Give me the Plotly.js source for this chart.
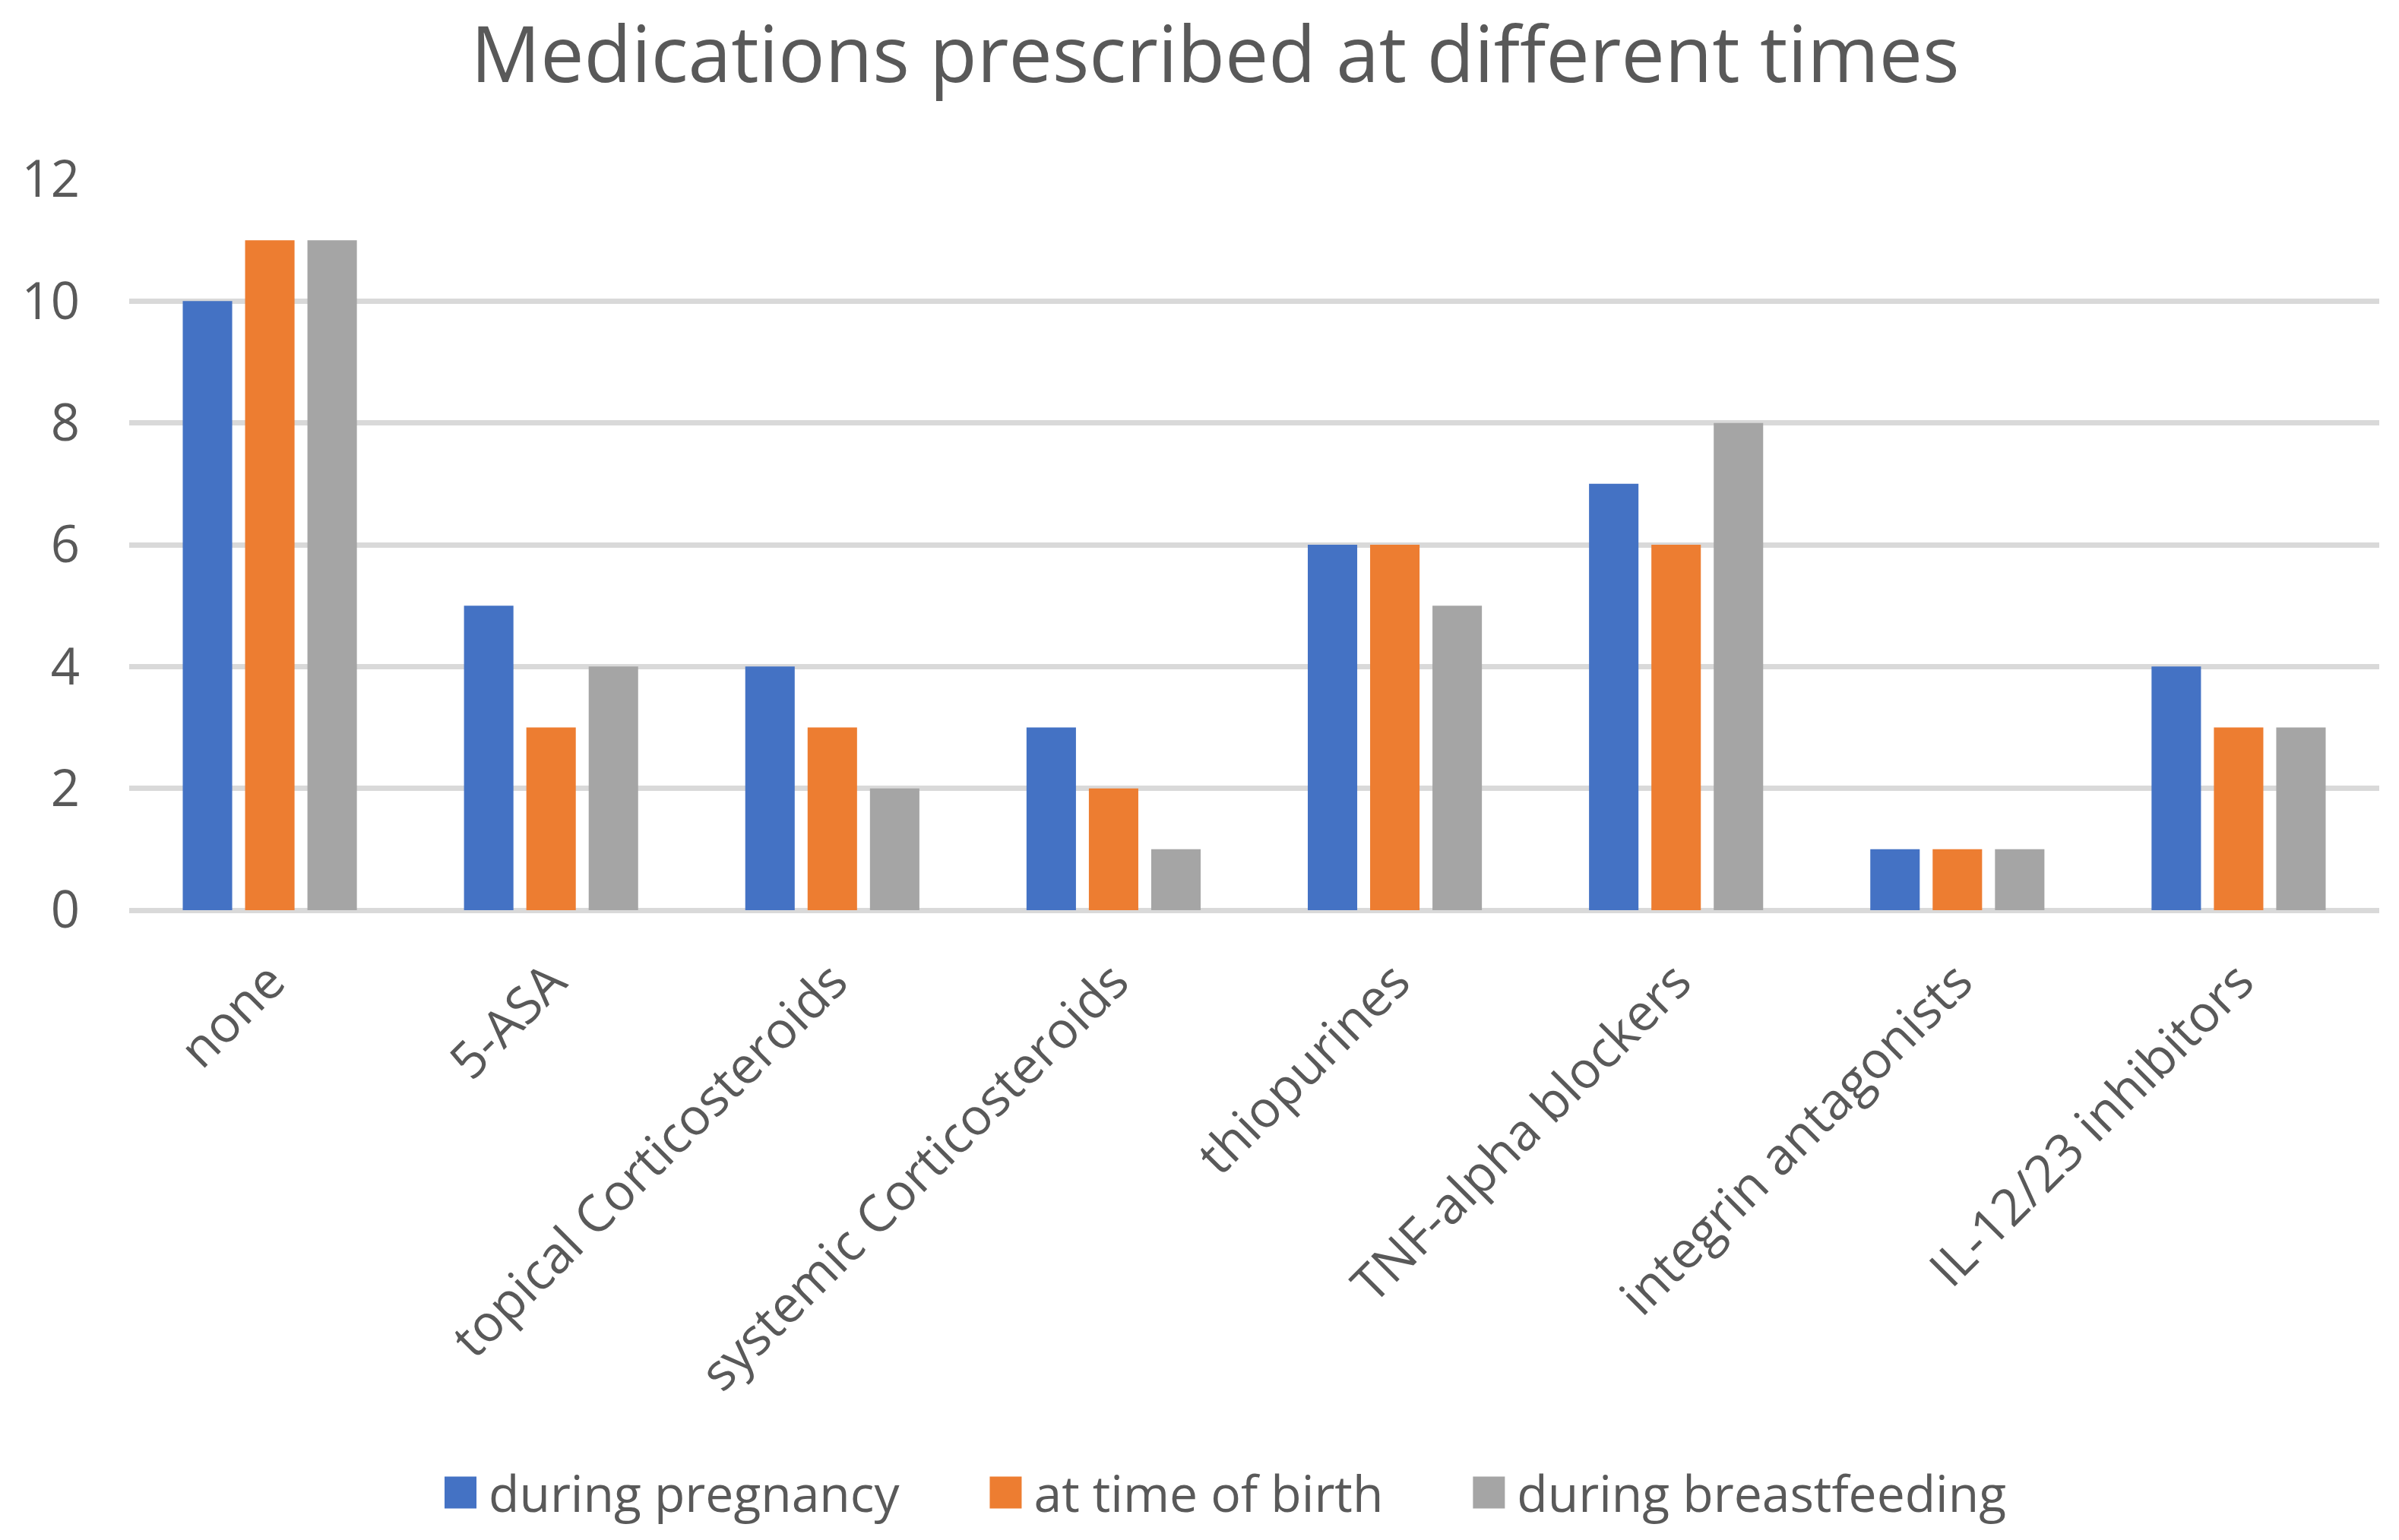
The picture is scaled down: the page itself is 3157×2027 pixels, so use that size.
<!DOCTYPE html>
<html>
<head>
<meta charset="utf-8">
<script src="https://cdn.plot.ly/plotly-3.0.1.min.js"></script>
<style>
  html, body { margin: 0; padding: 0; background: #ffffff; }
  #chart { width: 3157px; height: 2027px; }
</style>
</head>
<body>
<div id="chart"></div>
<script>
// ---- data ----
const categories = ["none", "5-ASA", "topical Corticosteroids", "systemic Corticosteroids",
  "thiopurines", "TNF-alpha blockers", "integrin antagonists", "IL-12/23 inhibitors"];
const seriesNames = ["during pregnancy", "at time of birth", "during breastfeeding"];
const duringPregnancy = [10, 5, 4, 3, 6, 7, 1, 4];
const atTimeOfBirth = [11, 3, 3, 2, 6, 6, 1, 3];
const duringBreastfeeding = [11, 4, 2, 1, 5, 8, 1, 3];
const yTicks = [0, 2, 4, 6, 8, 10, 12];
const titleText = "Medications prescribed at different times";

// ---- styles ----
const colors = ["#4472C4", "#ED7D31", "#A5A5A5"];
const textColor = "#595959";
const gridColor = "#D9D9D9";
const FONT = "'Open Sans', 'Noto Sans', sans-serif";

const values = [duringPregnancy, atTimeOfBirth, duringBreastfeeding];
const traces = values.map((v, i) => ({
  type: "bar",
  name: seriesNames[i],
  x: categories,
  y: v,
  marker: { color: colors[i], line: { width: 0 } },
  hoverinfo: "skip"
}));

const layout = {
  width: 3157,
  height: 2027,
  paper_bgcolor: "#ffffff",
  plot_bgcolor: "#ffffff",
  margin: { l: 170, r: 26, t: 236, b: 819, pad: 0 },
  barmode: "group",
  bargap: 0.335,
  bargroupgap: 0.207,
  font: { family: FONT, color: textColor, size: 66 },
  title: {
    text: titleText,
    font: { family: FONT, color: textColor, size: 102 },
    x: 0.5065, xref: "container", xanchor: "center",
    y: 0.982, yref: "container", yanchor: "top"
  },
  xaxis: {
    type: "category",
    tickangle: -45,
    tickfont: { family: FONT, color: textColor, size: 67 },
    showgrid: false,
    showline: false,
    zeroline: false,
    ticks: "",
    ticklabelstandoff: 40,
    automargin: false
  },
  yaxis: {
    range: [0, 12],
    tickvals: yTicks,
    ticktext: yTicks.map(String),
    tickfont: { family: FONT, color: textColor, size: 67 },
    showgrid: true,
    gridcolor: gridColor,
    gridwidth: 7,
    zeroline: true,
    zerolinecolor: gridColor,
    zerolinewidth: 7,
    showline: false,
    ticks: "",
    ticklabelstandoff: 64,
    automargin: false
  },
  showlegend: true,
  legend: {
    orientation: "h",
    x: 0.102, xanchor: "left",
    y: -0.797, yanchor: "middle",
    font: { family: FONT, color: textColor, size: 66 },
    bgcolor: "rgba(0,0,0,0)",
    itemwidth: 161
  }
};

Plotly.newPlot("chart", traces, layout, { staticPlot: true, displayModeBar: false }).then(() => {
  // enlarge the legend colour squares to match the reference (style only)
  document.querySelectorAll(".legend .traces").forEach(g => {
    const path = g.querySelector(".legendpoints path.legendbar") || g.querySelector(".legendpoints path");
    const text = g.querySelector("text.legendtext");
    if (!path || !text) return;
    const pr = path.getBoundingClientRect();
    const tr = text.getBoundingClientRect();
    const cx = (pr.left + pr.right) / 2;
    const half = 21;
    const desired = tr.left - 16 - half;
    const dx = desired - cx;
    path.setAttribute("d", `M${dx + half},${half}H${dx - half}V${-half}H${dx + half}Z`);
  });
});
</script>
</body>
</html>
